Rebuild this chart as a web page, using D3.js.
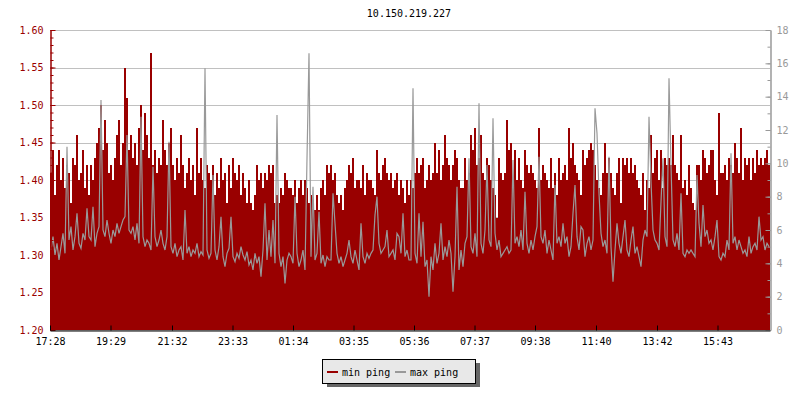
<!DOCTYPE html>
<html>
<head>
<meta charset="utf-8">
<script src="https://cdn.jsdelivr.net/npm/d3@7"></script>
<style>
  body { margin: 0; padding: 0; background: #fff; }
  text { font-family: "DejaVu Sans Mono", monospace; font-size: 10px; }
</style>
</head>
<body>
<div id="chart"></div>
<script>
// 360 samples, 4 minutes apart, starting 17:28
const minPing = [
  1.41,1.44,1.38,1.42,1.44,1.40,1.43,1.39,1.42,1.41,1.37,1.43,1.42,1.46,1.40,1.41,1.44,1.39,1.42,1.38,
  1.42,1.40,1.43,1.45,1.47,1.50,1.44,1.48,1.45,1.41,1.42,1.40,1.43,1.46,1.48,1.42,1.45,1.55,1.51,1.44,
  1.46,1.43,1.45,1.42,1.47,1.50,1.44,1.49,1.46,1.43,1.57,1.42,1.44,1.41,1.43,1.42,1.48,1.44,1.42,1.45,
  1.47,1.42,1.40,1.43,1.41,1.46,1.42,1.39,1.41,1.43,1.40,1.42,1.38,1.47,1.41,1.43,1.40,1.39,1.42,1.41,
  1.40,1.42,1.38,1.41,1.39,1.43,1.40,1.41,1.37,1.42,1.39,1.43,1.41,1.40,1.42,1.38,1.41,1.39,1.37,1.40,
  1.37,1.36,1.38,1.42,1.40,1.41,1.39,1.41,1.40,1.42,1.41,1.42,1.37,1.38,1.37,1.39,1.38,1.41,1.40,1.39,
  1.39,1.38,1.40,1.37,1.39,1.40,1.38,1.40,1.39,1.37,1.38,1.37,1.36,1.38,1.36,1.39,1.40,1.38,1.42,1.41,
  1.42,1.40,1.41,1.38,1.37,1.38,1.36,1.39,1.40,1.42,1.41,1.43,1.39,1.40,1.40,1.39,1.42,1.38,1.41,1.40,
  1.40,1.39,1.38,1.44,1.41,1.40,1.42,1.43,1.41,1.40,1.41,1.39,1.40,1.41,1.38,1.40,1.39,1.37,1.40,1.38,
  1.40,1.39,1.41,1.43,1.41,1.42,1.43,1.39,1.40,1.42,1.40,1.41,1.45,1.41,1.44,1.40,1.42,1.46,1.43,1.42,
  1.40,1.42,1.44,1.43,1.40,1.39,1.39,1.43,1.40,1.41,1.46,1.44,1.47,1.42,1.43,1.46,1.41,1.40,1.43,1.42,
  1.40,1.39,1.38,1.35,1.43,1.41,1.40,1.41,1.48,1.44,1.45,1.40,1.44,1.40,1.43,1.40,1.39,1.44,1.42,1.41,
  1.42,1.41,1.40,1.39,1.47,1.40,1.42,1.41,1.40,1.39,1.43,1.39,1.41,1.38,1.43,1.40,1.41,1.42,1.40,1.47,
  1.43,1.45,1.42,1.41,1.40,1.38,1.44,1.42,1.43,1.44,1.45,1.44,1.42,1.40,1.39,1.38,1.41,1.45,1.41,1.43,
  1.41,1.39,1.38,1.41,1.43,1.37,1.43,1.42,1.43,1.41,1.43,1.41,1.42,1.40,1.39,1.38,1.41,1.36,1.40,1.39,
  1.46,1.41,1.43,1.44,1.40,1.44,1.39,1.43,1.42,1.43,1.42,1.46,1.42,1.41,1.40,1.46,1.39,1.40,1.38,1.42,
  1.39,1.37,1.36,1.42,1.42,1.40,1.44,1.43,1.41,1.42,1.44,1.44,1.40,1.38,1.49,1.41,1.41,1.42,1.40,1.43,
  1.42,1.41,1.45,1.43,1.41,1.47,1.40,1.43,1.42,1.43,1.40,1.43,1.41,1.44,1.42,1.43,1.42,1.43,1.44,1.42
];
const maxPing = [
  4.8,5.6,4.5,5.2,4.2,5.0,5.8,4.6,11.0,5.4,6.2,4.8,5.6,7.0,5.2,4.9,5.8,5.4,7.3,5.6,
  5.4,7.4,5.0,5.8,6.2,13.8,6.0,5.6,6.6,5.8,5.2,6.0,5.6,6.4,5.8,6.2,6.6,6.8,11.7,6.0,
  5.8,6.2,5.4,6.4,5.2,12.8,5.6,5.0,5.4,5.2,4.8,9.8,5.6,5.0,5.4,6.0,5.2,4.8,5.6,11.3,
  5.0,4.6,5.2,4.4,4.8,5.0,4.2,7.2,4.6,5.0,4.4,4.8,4.6,5.2,4.4,4.7,4.5,15.7,4.8,4.3,
  4.6,9.3,4.8,4.2,5.0,6.8,4.4,3.8,4.6,4.9,6.8,4.4,4.1,4.6,4.3,5.0,4.5,4.2,4.7,3.9,
  4.2,3.6,4.6,4.0,4.4,3.2,4.8,7.6,4.2,6.0,4.4,6.6,4.0,12.9,4.6,3.8,4.4,2.8,4.2,4.6,
  4.4,4.0,8.0,4.6,3.8,4.2,4.8,3.6,10.3,16.6,4.4,8.6,4.2,4.6,7.1,4.0,4.5,3.8,4.4,4.2,
  4.2,8.2,6.4,4.6,4.0,4.4,3.8,4.2,4.6,5.4,4.4,4.0,4.8,4.2,3.6,6.4,4.4,4.0,4.6,4.3,
  4.6,4.8,6.9,8.0,5.2,4.6,4.8,5.0,6.0,4.4,4.6,4.8,4.2,5.8,5.6,4.6,7.0,4.4,4.8,4.2,
  4.2,14.5,4.6,4.0,7.0,4.4,6.5,3.8,4.2,2.0,4.4,3.6,5.2,4.0,4.6,6.4,4.2,5.0,4.4,5.4,
  4.6,2.3,4.4,8.6,3.6,4.8,3.8,5.2,5.6,10.3,5.0,4.6,5.8,4.4,13.6,5.2,4.6,6.0,9.9,5.4,
  5.0,12.7,5.8,4.8,5.4,4.4,4.6,4.8,5.0,4.6,4.8,10.2,5.2,5.6,5.0,6.0,4.8,8.3,5.2,4.6,
  5.4,4.8,5.6,6.2,10.4,5.6,5.2,6.0,4.6,5.4,4.8,4.2,8.7,5.2,5.6,5.0,6.4,5.2,5.6,4.4,
  5.0,7.0,8.7,5.6,4.8,6.2,6.0,4.4,5.2,5.6,4.8,5.4,13.3,11.8,8.2,5.8,5.0,5.4,4.6,10.4,
  5.0,2.9,4.8,6.4,5.2,4.6,5.6,6.6,4.8,4.4,5.4,6.2,4.6,5.0,4.4,3.8,5.4,6.0,5.6,12.8,
  8.9,6.0,5.4,5.2,4.8,7.7,10.3,5.6,5.0,15.1,9.9,5.4,5.0,5.8,4.8,8.2,4.6,4.4,4.8,4.6,
  4.8,4.6,4.4,9.3,6.4,5.0,7.5,5.6,6.0,5.2,5.4,4.8,5.6,6.6,4.4,4.2,4.6,4.4,5.4,4.8,
  10.6,5.2,5.6,4.8,5.4,5.0,4.6,4.8,4.4,5.6,4.6,5.0,5.2,4.8,6.8,5.4,5.6,4.8,5.2,5.0
];
const timeLabels = ["17:28","19:29","21:32","23:33","01:34","03:35","05:36","07:37","09:38","11:40","13:42","15:43"];
const leftTicks = [1.20, 1.25, 1.30, 1.35, 1.40, 1.45, 1.50, 1.55, 1.60];
const rightTicks = [0, 2, 4, 6, 8, 10, 12, 14, 16, 18];
const title = "10.150.219.227";
const seriesNames = ["min ping", "max ping"];

const red = "#990000", grey = "#999999";
const width = 800, height = 400;
const plotL = 50, plotR = 770, plotT = 30, plotB = 330;
const step = 4; // minutes per sample

const svg = d3.select('#chart').append('svg').attr('width', width).attr('height', height);

const x = d3.scaleLinear().domain([0, 1440]).range([plotL, plotR]);
const yL = d3.scaleLinear().domain([1.20, 1.60]).range([plotB, plotT]);
const yR = d3.scaleLinear().domain([0, 18]).range([plotB, plotT]);

function toMin(s) {
  let p = s.split(':'), m = (+p[0]) * 60 + (+p[1]) - (17 * 60 + 28);
  return (m + 1440) % 1440;
}

// points, with one extra at the end so the last step reaches the edge
function pts(arr) {
  let out = arr.map((v, i) => [i * step, v]);
  out.push([arr.length * step, arr[arr.length - 1]]);
  return out;
}

// grid
svg.append('g').selectAll('line')
  .data(leftTicks)
  .enter().append('line')
  .attr('x1', plotL).attr('x2', plotR)
  .attr('y1', d => Math.round(yL(d)) + 0.5).attr('y2', d => Math.round(yL(d)) + 0.5)
  .attr('stroke', '#c0c0c0').attr('stroke-width', 1);

// min ping area
svg.append('path')
  .datum(pts(minPing))
  .attr('fill', red)
  .attr('shape-rendering', 'crispEdges')
  .attr('d', d3.area().curve(d3.curveStepAfter)
    .x(d => x(d[0])).y0(plotB).y1(d => yL(d[1])));

// max ping line
svg.append('path')
  .datum(maxPing.map((v, i) => [i * step + step / 2, v]))
  .attr('fill', 'none')
  .attr('stroke', grey)
  .attr('stroke-width', 1.2)
  .attr('d', d3.line()
    .x(d => x(d[0])).y(d => yR(d[1])));

// left axis (red), minor ticks every 0.01
let minorL = d3.range(120, 161).map(v => v / 100);
svg.append('g').attr('transform', 'translate(' + (plotL + 0.5) + ',0)')
  .call(d3.axisLeft(yL).tickValues(minorL).tickSizeInner(-3).tickSizeOuter(0).tickFormat(''))
  .call(g => g.selectAll('line,path').attr('stroke', red));
svg.append('g').attr('transform', 'translate(' + (plotL + 0.5) + ',0)')
  .call(d3.axisLeft(yL).tickValues(leftTicks).tickSizeInner(-5).tickSizeOuter(0).tickPadding(7).tickFormat(d3.format('.2f')))
  .call(g => g.selectAll('line,path').attr('stroke', red))
  .call(g => g.selectAll('text').attr('fill', red).style('font-family', '"DejaVu Sans Mono", monospace').style('font-size', '10px'));

// right axis (grey), minor ticks every 1
svg.append('g').attr('transform', 'translate(' + (plotR + 0.5) + ',0)')
  .call(d3.axisRight(yR).tickValues(d3.range(0, 19)).tickSizeInner(-3).tickSizeOuter(0).tickFormat(''))
  .call(g => g.selectAll('line,path').attr('stroke', grey));
svg.append('g').attr('transform', 'translate(' + (plotR + 0.5) + ',0)')
  .call(d3.axisRight(yR).tickValues(rightTicks).tickSizeInner(-5).tickSizeOuter(0).tickPadding(6))
  .call(g => g.selectAll('line,path').attr('stroke', grey))
  .call(g => g.selectAll('text').attr('fill', grey).style('font-family', '"DejaVu Sans Mono", monospace').style('font-size', '10px'));

// time axis
svg.append('g').attr('transform', 'translate(0,' + (plotB + 0.5) + ')')
  .call(d3.axisBottom(x).tickValues(timeLabels.map(toMin)).tickSizeInner(-5).tickSizeOuter(0).tickPadding(7)
    .tickFormat((d, i) => timeLabels[i]))
  .call(g => g.selectAll('line,path').attr('stroke', '#000'))
  .call(g => g.selectAll('text').attr('fill', '#000').style('font-family', '"DejaVu Sans Mono", monospace').style('font-size', '10px'));

// title
svg.append('text')
  .attr('x', 409).attr('y', 17)
  .attr('text-anchor', 'middle')
  .attr('fill', '#000')
  .text(title);

// legend
let lg = svg.append('g');
lg.append('rect').attr('x', 327).attr('y', 363).attr('width', 153).attr('height', 24).attr('fill', '#666');
lg.append('rect').attr('x', 322.5).attr('y', 359.5).attr('width', 153).attr('height', 24)
  .attr('fill', '#e8e8e8').attr('stroke', '#000').attr('stroke-width', 1);
[[327, red], [395, grey]].forEach((s, i) => {
  lg.append('line').attr('x1', s[0]).attr('x2', s[0] + 11).attr('y1', 372).attr('y2', 372)
    .attr('stroke', s[1]).attr('stroke-width', 2);
  lg.append('text').attr('x', s[0] + 15).attr('y', 375.5).attr('fill', '#000').text(seriesNames[i]);
});
</script>
</body>
</html>
